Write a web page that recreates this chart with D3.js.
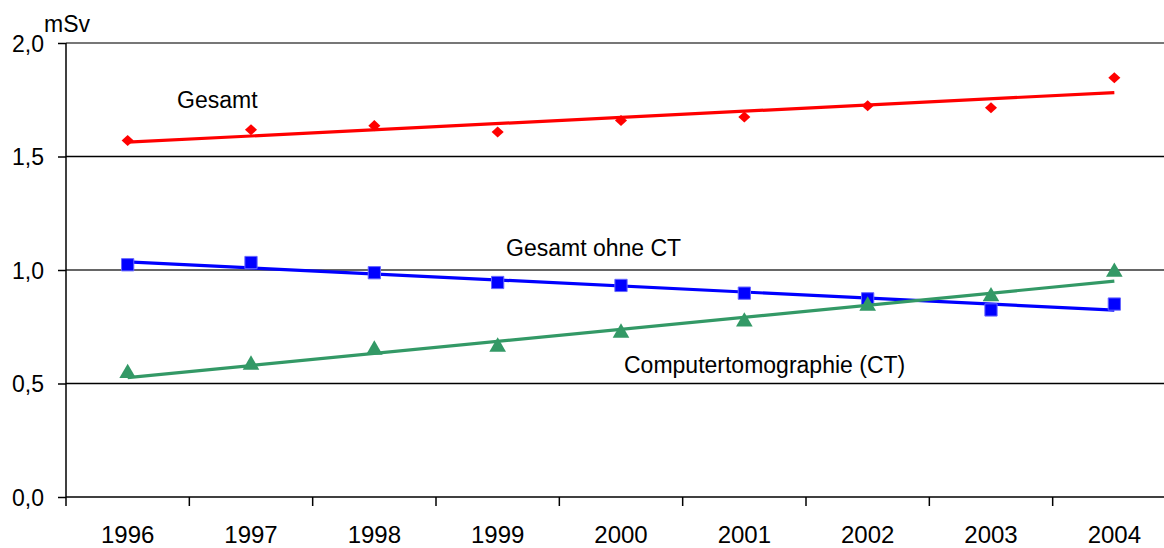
<!DOCTYPE html>
<html>
<head>
<meta charset="utf-8">
<script src="https://cdn.jsdelivr.net/npm/d3@7"></script>
<style>
  body { margin: 0; background: #fff; }
  text { font-family: "Liberation Sans", Arial, sans-serif; fill: #000; }
</style>
</head>
<body>
<div id="chart"></div>
<script>
// values (mSv)
let years = ["1996", "1997", "1998", "1999", "2000", "2001", "2002", "2003", "2004"];
let gesamt = [1.570, 1.618, 1.636, 1.608, 1.659, 1.674, 1.724, 1.715, 1.847];
let ohneCT = [1.023, 1.033, 0.988, 0.945, 0.932, 0.898, 0.873, 0.824, 0.850];
let ct = [0.545, 0.582, 0.648, 0.661, 0.723, 0.772, 0.842, 0.883, 0.991];
let yTicks = [0, 0.5, 1.0, 1.5, 2.0];

let width = 1164, height = 548;

let svg = d3.select("#chart")
  .append("svg")
  .attr("width", width)
  .attr("height", height);

let x = d3.scaleBand().domain(years).range([66, 1176]);
let y = d3.scaleLinear().domain([0, 2]).range([497, 43]);

// gridlines
svg.selectAll(".grid")
  .data(yTicks.filter(d => d > 0))
  .enter().append("line")
  .attr("x1", 66).attr("x2", width)
  .attr("y1", d => y(d)).attr("y2", d => y(d))
  .attr("stroke", d => d == 2 ? "#777" : (d == 1 ? "#333" : "#000"))
  .attr("stroke-width", d => d == 2 ? 2 : 1.5);

// y axis
let yAxis = d3.axisLeft(y)
  .tickValues(yTicks)
  .tickSize(8)
  .tickPadding(14)
  .tickFormat(d => d3.format(".1f")(d).replace(".", ","));
let gy = svg.append("g").attr("transform", "translate(66,0)").call(yAxis);
gy.select(".domain").attr("stroke", "#000").attr("stroke-width", 1.5).attr("d", "M0,43V497");
gy.selectAll(".tick line").attr("stroke", "#000").attr("stroke-width", 1.5);
gy.selectAll(".tick text")
  .style("font-size", "23px")
  .style("font-family", "'Liberation Sans', Arial, sans-serif")
  .attr("dy", "0.36em");

// x axis: ticks between the categories
svg.append("line")
  .attr("x1", 66).attr("x2", width)
  .attr("y1", 497).attr("y2", 497)
  .attr("stroke", "#000").attr("stroke-width", 1.5);
svg.selectAll(".xtick")
  .data(years)
  .enter().append("line")
  .attr("x1", d => x(d)).attr("x2", d => x(d))
  .attr("y1", 497).attr("y2", 506)
  .attr("stroke", "#000").attr("stroke-width", 1.5);
svg.selectAll(".xlabel")
  .data(years)
  .enter().append("text")
  .attr("x", d => x(d) + x.bandwidth() / 2)
  .attr("y", 543)
  .attr("text-anchor", "middle")
  .style("font-size", "24px")
  .text(d => d);

// unit
svg.append("text").attr("x", 44).attr("y", 32).style("font-size", "23px").text("mSv");

function cx(i) { return x(years[i]) + x.bandwidth() / 2; }

// least squares trend (like the spreadsheet trendline)
function trend(vals) {
  let n = vals.length;
  let mx = d3.mean(vals, (v, i) => i), my = d3.mean(vals);
  let sxy = d3.sum(vals, (v, i) => (i - mx) * (v - my));
  let sxx = d3.sum(vals, (v, i) => (i - mx) * (i - mx));
  let b = sxy / sxx, a = my - b * mx;
  return [[0, a], [n - 1, a + b * (n - 1)]];
}

let series = [
  { vals: gesamt, color: "#ff0000", shape: d3.symbolDiamond, size: 35, sx: 1.9 },
  { vals: ohneCT, color: "#0000ff", shape: d3.symbolSquare, size: 150, sx: 1 },
  { vals: ct, color: "#339966", shape: d3.symbolTriangle, size: 120, sx: 1 }
];

let line = d3.line().x(d => cx(d[0])).y(d => y(d[1]));

series.forEach(s => {
  svg.append("path")
    .attr("d", line(trend(s.vals)))
    .attr("fill", "none")
    .attr("stroke", s.color)
    .attr("stroke-width", 3.2);

  svg.selectAll(null)
    .data(s.vals)
    .enter().append("path")
    .attr("d", d3.symbol().type(s.shape).size(s.size))
    .attr("transform", (d, i) => "translate(" + cx(i) + "," + y(d) + ") scale(" + s.sx + ",1)")
    .attr("fill", s.color)
    .attr("stroke", s.shape == d3.symbolSquare ? "#6666ff" : "none")
    .attr("stroke-width", 1);
});

// series labels
let labels = [
  { text: "Gesamt", x: 177, y: 108 },
  { text: "Gesamt ohne CT", x: 506, y: 256 },
  { text: "Computertomographie (CT)", x: 624, y: 373 }
];
svg.selectAll(".lbl")
  .data(labels)
  .enter().append("text")
  .attr("x", d => d.x)
  .attr("y", d => d.y)
  .style("font-size", "23px")
  .text(d => d.text);
</script>
</body>
</html>
